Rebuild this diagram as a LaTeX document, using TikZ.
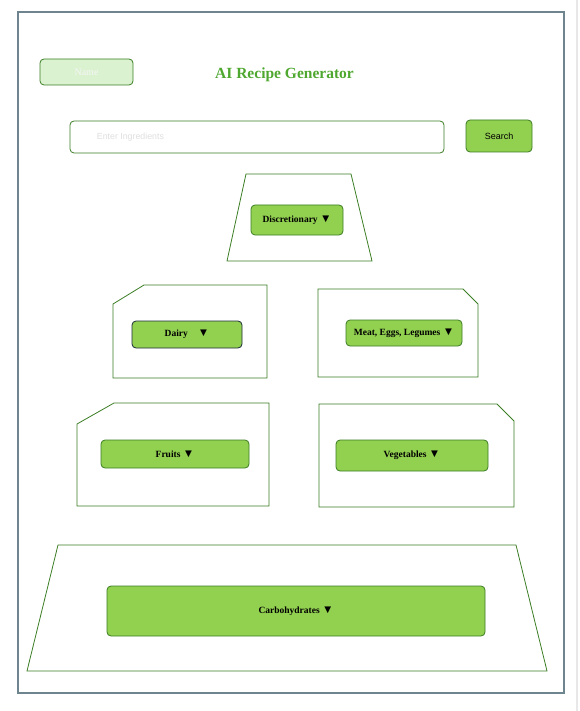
\documentclass[tikz,border=0pt]{standalone}
\usepackage{fontspec}
\setmainfont{Liberation Serif}
\setsansfont{Liberation Sans}
\usetikzlibrary{positioning}

\definecolor{leaf}{HTML}{92D050}
\definecolor{moss}{HTML}{3B7D23}
\definecolor{mint}{HTML}{DAF2D0}
\definecolor{slate}{HTML}{6E8590}
\definecolor{headgreen}{HTML}{4EA72E}
\definecolor{navy}{HTML}{1B2A3A}
\newcommand{\dropmark}{{\fontsize{11.5}{11}\selectfont▼}}

\begin{document}
\begin{tikzpicture}[x=1pt, y=-1pt, semithick,
    tier/.style={draw=moss, line width=0.8pt},
    pick/.style={draw=moss, fill=leaf, rounded corners=4pt, line width=0.8pt, inner sep=0pt,
                 font=\fontsize{9.5}{11}\selectfont\bfseries},
    field/.style={draw=moss, rounded corners=4pt, line width=0.8pt, inner sep=0pt,
                  font=\fontsize{9}{11}\selectfont\sffamily}]
    \useasboundingbox (0,0) rectangle (580,711);
    \draw[gray!18, line width=1.5pt] (577,0) -- (577,711);
    \draw[slate, line width=1.4pt] (18,12) rectangle (564,693);

    % header
    \node[field, fill=mint, minimum width=93pt, minimum height=26pt, text=white!93!gray,
          font=\fontsize{10}{12}\selectfont]                      (name)   at (86.5,72)  {Name\hspace{18pt}};
    \node[text=headgreen, font=\fontsize{15.5}{18}\selectfont\bfseries] (title) at (284.5,75) {AI Recipe Generator};
    \node[field, fill=white, minimum width=374pt, minimum height=32pt] (bar)    at (257,137)  {};
    \node[text=gray!25, font=\fontsize{8.8}{11}\selectfont\sffamily, anchor=west, inner sep=0pt,
          right=27pt of bar.west]                                  (hint)   {Enter Ingredients};
    \node[field, fill=leaf, minimum width=66pt, minimum height=32pt]   (search) at (499,136)  {Search};

    % pyramid tiers
    \draw[tier] (246,174) -- (351,174) -- (372,261) -- (227,261) -- cycle;
    \draw[tier] (113,304) -- (144,285) -- (267,285) -- (267,378) -- (113,378) -- cycle;
    \draw[tier] (318,289) -- (463,289) -- (478,304) -- (478,377) -- (318,377) -- cycle;
    \draw[tier] (77,424) -- (114,403) -- (269,403) -- (269,506) -- (77,506) -- cycle;
    \draw[tier] (319,404) -- (497,404) -- (514,421) -- (514,507) -- (319,507) -- cycle;
    \draw[tier] (58,545) -- (516,545) -- (547,671) -- (27,671) -- cycle;

    % food group buttons
    \node[pick, minimum width=92pt,  minimum height=30pt]            (disc)  at (297,220)   {Discretionary \dropmark};
    \node[pick, draw=navy, minimum width=110pt, minimum height=27pt] (dairy) at (187,334.5) {Dairy\hspace{10pt}\dropmark};
    \node[pick, minimum width=116pt, minimum height=26pt]            (meat)  at (404,333)   {Meat, Eggs, Legumes \dropmark};
    \node[pick, minimum width=148pt, minimum height=28pt]            (fruit) at (175,454)   {Fruits \dropmark};
    \node[pick, minimum width=152pt, minimum height=31pt]            (veg)   at (412,455.5) {Vegetables \dropmark};
    \node[pick, minimum width=378pt, minimum height=50pt]            (carb)  at (296,611)   {Carbohydrates \dropmark};
\end{tikzpicture}
\end{document}
